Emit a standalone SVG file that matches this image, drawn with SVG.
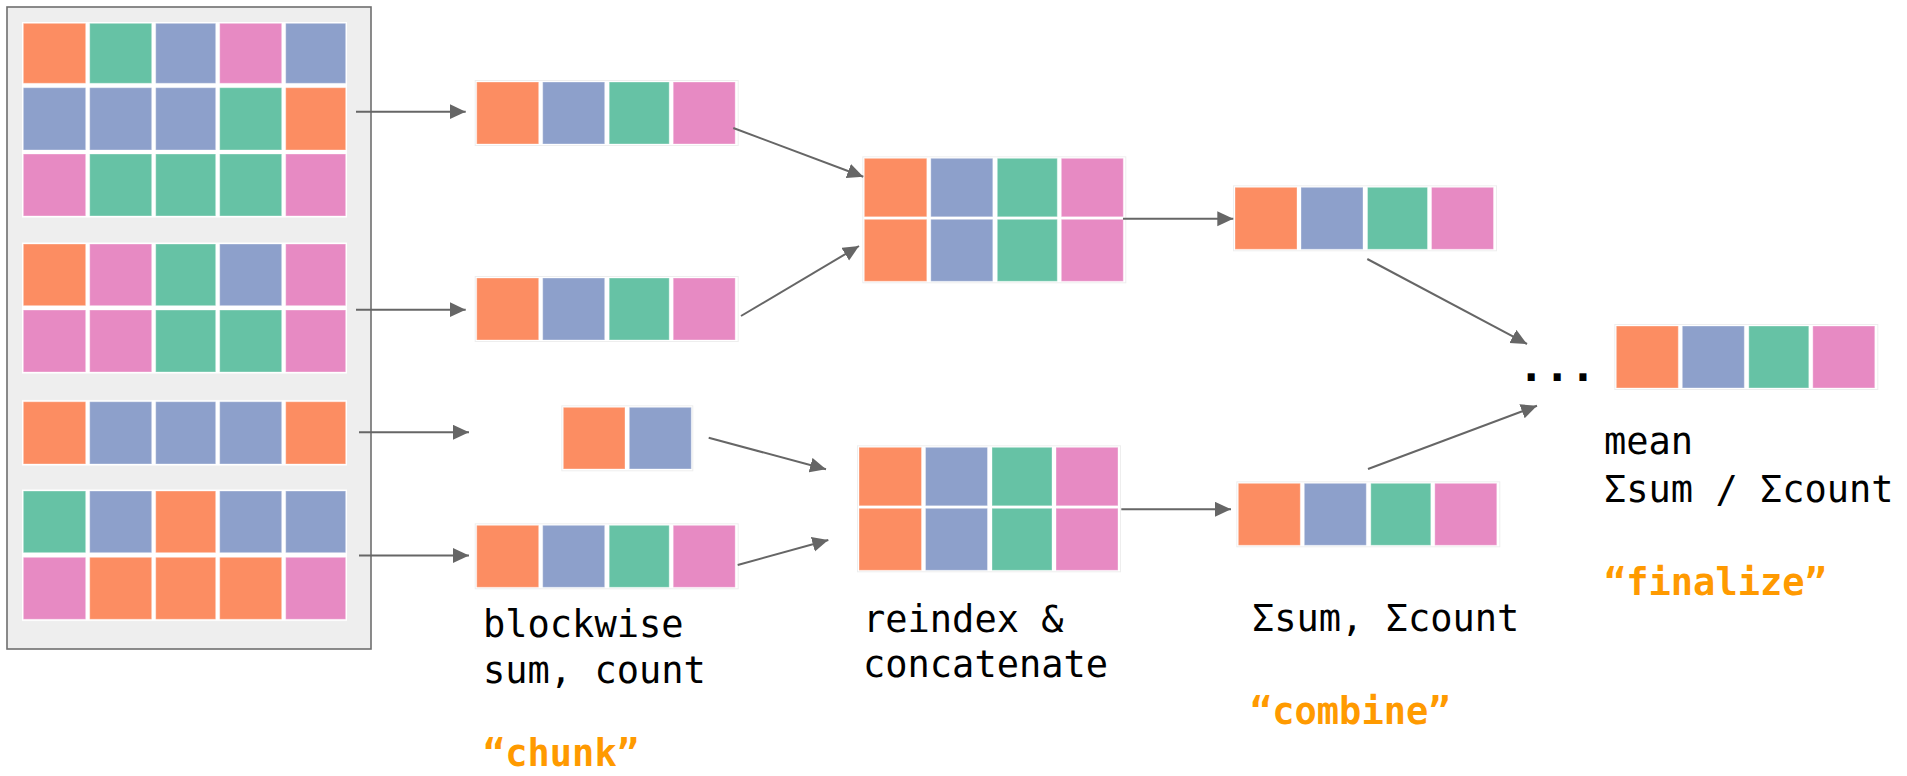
<svg xmlns="http://www.w3.org/2000/svg" xmlns:xlink="http://www.w3.org/1999/xlink" width="1907" height="776" viewBox="0 0 1907 776">
<style>
.o{fill:#fc8d62}.b{fill:#8da0cb}.g{fill:#66c2a5}.p{fill:#e78ac3}
rect.o,rect.b,rect.g,rect.p{stroke:#ffffff;stroke-opacity:0.35;stroke-width:1}
.bg{fill:#ffffff;stroke:#eeeeee;stroke-width:1}
.panel{fill:#eeeeee;stroke:#6e6e6e;stroke-width:1.6}
.conn line{stroke:#666666;stroke-width:2;fill:none;marker-end:url(#arr)}
.lbl{font-family:"DejaVu Sans Mono","Liberation Mono",monospace;font-size:37px;fill:#000000}
.stage{font-family:"DejaVu Sans Mono","Liberation Mono",monospace;font-size:37px;font-weight:bold;fill:#ff9a00}
</style>
<defs>
<marker id="arr" markerUnits="userSpaceOnUse" markerWidth="17" markerHeight="16" refX="16" refY="7.5" orient="auto" viewBox="0 0 17 16">
<path d="M0,0 L16,7.5 L0,15 z" fill="#666666"/>
</marker>
<g id="strip4">
<rect class="bg" x="-1.5" y="-1.5" width="263" height="65"/>
<rect class="o" x="0" y="0" width="62" height="62"/>
<rect class="b" x="66" y="0" width="62" height="62"/>
<rect class="g" x="132.5" y="0" width="60" height="62"/>
<rect class="p" x="196.5" y="0" width="62" height="62"/>
</g>
<g id="concat">
<rect class="bg" x="-1.5" y="-1.5" width="263" height="126"/>
<rect class="o" x="0" y="0" width="62.5" height="58.5"/>
<rect class="b" x="66.5" y="0" width="62" height="58.5"/>
<rect class="g" x="133" y="0" width="60" height="58.5"/>
<rect class="p" x="197" y="0" width="62" height="58.5"/>
<rect class="o" x="0" y="61" width="62.5" height="62"/>
<rect class="b" x="66.5" y="61" width="62" height="62"/>
<rect class="g" x="133" y="61" width="60" height="62"/>
<rect class="p" x="197" y="61" width="62" height="62"/>
</g>
</defs>
<rect width="1907" height="776" fill="#ffffff"/>

<g id="input-array">
<rect class="panel" x="7" y="7" width="364" height="642"/>
<g id="block1">
<rect class="bg" x="21.5" y="21.5" width="326" height="196.5"/>
<rect class="o" x="23.3" y="23.3" width="62.4" height="60"/>
<rect class="g" x="89.7" y="23.3" width="62" height="60"/>
<rect class="b" x="155.7" y="23.3" width="60" height="60"/>
<rect class="p" x="219.7" y="23.3" width="62" height="60"/>
<rect class="b" x="285.7" y="23.3" width="60" height="60"/>
<rect class="b" x="23.3" y="87.7" width="62.4" height="62.3"/>
<rect class="b" x="89.7" y="87.7" width="62" height="62.3"/>
<rect class="b" x="155.7" y="87.7" width="60" height="62.3"/>
<rect class="g" x="219.7" y="87.7" width="62" height="62.3"/>
<rect class="o" x="285.7" y="87.7" width="60" height="62.3"/>
<rect class="p" x="23.3" y="154" width="62.4" height="62"/>
<rect class="g" x="89.7" y="154" width="62" height="62"/>
<rect class="g" x="155.7" y="154" width="60" height="62"/>
<rect class="g" x="219.7" y="154" width="62" height="62"/>
<rect class="p" x="285.7" y="154" width="60" height="62"/>
</g>
<g id="block2">
<rect class="bg" x="21.5" y="242" width="326" height="132"/>
<rect class="o" x="23.3" y="244" width="62.4" height="61.7"/>
<rect class="p" x="89.7" y="244" width="62" height="61.7"/>
<rect class="g" x="155.7" y="244" width="60" height="61.7"/>
<rect class="b" x="219.7" y="244" width="62" height="61.7"/>
<rect class="p" x="285.7" y="244" width="60" height="61.7"/>
<rect class="p" x="23.3" y="310" width="62.4" height="62"/>
<rect class="p" x="89.7" y="310" width="62" height="62"/>
<rect class="g" x="155.7" y="310" width="60" height="62"/>
<rect class="g" x="219.7" y="310" width="62" height="62"/>
<rect class="p" x="285.7" y="310" width="60" height="62"/>
</g>
<g id="block3">
<rect class="bg" x="21.5" y="399.7" width="326" height="66.3"/>
<rect class="o" x="23.3" y="401.7" width="62.4" height="62.3"/>
<rect class="b" x="89.7" y="401.7" width="62" height="62.3"/>
<rect class="b" x="155.7" y="401.7" width="60" height="62.3"/>
<rect class="b" x="219.7" y="401.7" width="62" height="62.3"/>
<rect class="o" x="285.7" y="401.7" width="60" height="62.3"/>
</g>
<g id="block4">
<rect class="bg" x="21.5" y="489" width="326" height="132.3"/>
<rect class="g" x="23.3" y="491" width="62.4" height="61.7"/>
<rect class="b" x="89.7" y="491" width="62" height="61.7"/>
<rect class="o" x="155.7" y="491" width="60" height="61.7"/>
<rect class="b" x="219.7" y="491" width="62" height="61.7"/>
<rect class="b" x="285.7" y="491" width="60" height="61.7"/>
<rect class="p" x="23.3" y="557.3" width="62.4" height="62"/>
<rect class="o" x="89.7" y="557.3" width="62" height="62"/>
<rect class="o" x="155.7" y="557.3" width="60" height="62"/>
<rect class="o" x="219.7" y="557.3" width="62" height="62"/>
<rect class="p" x="285.7" y="557.3" width="60" height="62"/>
</g>
</g>

<g id="chunk-a" transform="translate(476.7,82)"><use xlink:href="#strip4" href="#strip4"/></g>
<g id="chunk-b" transform="translate(476.7,278)"><use xlink:href="#strip4" href="#strip4"/></g>
<g id="chunk-c">
<rect class="bg" x="561.8" y="405.8" width="131" height="65"/>
<rect class="o" x="563.3" y="407.3" width="61.7" height="61.7"/>
<rect class="b" x="629.3" y="407.3" width="62" height="61.7"/>
</g>
<g id="chunk-d" transform="translate(476.7,525.3)"><use xlink:href="#strip4" href="#strip4"/></g>

<g id="concat-1" transform="translate(864.3,158.3)"><use xlink:href="#concat" href="#concat"/></g>
<g id="concat-2" transform="translate(859,447.3)"><use xlink:href="#concat" href="#concat"/></g>

<g id="combine-1" transform="translate(1235,187.3)"><use xlink:href="#strip4" href="#strip4"/></g>
<g id="combine-2" transform="translate(1238.3,483.3)"><use xlink:href="#strip4" href="#strip4"/></g>

<g id="result" transform="translate(1616.3,326)"><use xlink:href="#strip4" href="#strip4"/></g>

<g id="ellipsis"><text class="lbl" x="1518.3" y="381" style="font-size:43px;font-weight:bold">...</text></g>

<g id="connectors" class="conn">
<line x1="356" y1="111.7" x2="465.7" y2="111.7"/>
<line x1="356" y1="309.7" x2="465.7" y2="309.7"/>
<line x1="359" y1="432.3" x2="469" y2="432.3"/>
<line x1="359" y1="555.5" x2="469" y2="555.5"/>
<line x1="733.3" y1="128" x2="863.3" y2="176.7"/>
<line x1="741" y1="316" x2="859" y2="246"/>
<line x1="708.7" y1="437.7" x2="826" y2="469.3"/>
<line x1="737.7" y1="565" x2="828.3" y2="540"/>
<line x1="1123" y1="218.7" x2="1233.3" y2="218.7"/>
<line x1="1121.3" y1="509.3" x2="1231" y2="509.3"/>
<line x1="1367.3" y1="259" x2="1527" y2="344"/>
<line x1="1368" y1="469" x2="1537" y2="405.7"/>
</g>

<g id="label-chunk">
<text class="lbl" x="483" y="636.7">blockwise</text>
<text class="lbl" x="483" y="682.7">sum, count</text>
<text class="stage" x="483" y="766">“chunk”</text>
</g>
<g id="label-concat">
<text class="lbl" x="863" y="631.7">reindex &amp;</text>
<text class="lbl" x="863" y="676.7">concatenate</text>
</g>
<g id="label-combine">
<text class="lbl" x="1252" y="631">Σsum, Σcount</text>
<text class="stage" x="1250" y="724">“combine”</text>
</g>
<g id="label-finalize">
<text class="lbl" x="1604" y="454">mean</text>
<text class="lbl" x="1604" y="501.7">Σsum / Σcount</text>
<text class="stage" x="1604" y="595">“finalize”</text>
</g>
</svg>
